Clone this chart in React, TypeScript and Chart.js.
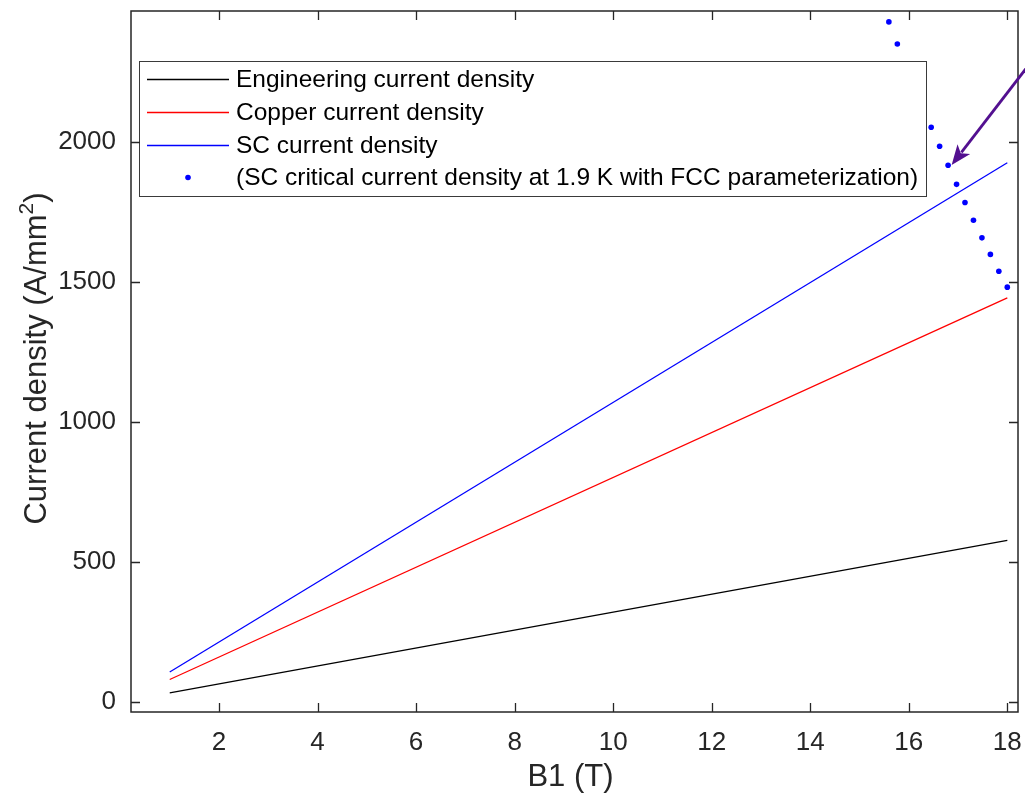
import React, { useEffect, useRef } from 'react';
import { Chart, registerables } from 'chart.js';

Chart.register(...registerables);

const FONT = '"Liberation Sans", Arial, Helvetica, sans-serif';
const AXIS_COLOR = '#262626';

// ---- data ----
const bField = [1, 18];
const engineeringJ = [32, 577];
const copperJ = [80, 1443];
const scJ = [107, 1925];

const criticalB = [15.596, 15.768, 16.455, 16.626, 16.798, 16.97, 17.141, 17.313, 17.485, 17.657, 17.828, 18.0];
const criticalJ = [2428, 2349, 2052, 1984, 1916, 1848, 1783, 1720, 1657, 1598, 1538, 1481];

const xTickValues = [2, 4, 6, 8, 10, 12, 14, 16, 18];
const yTickValues = [0, 500, 1000, 1500, 2000];
const xRange = [0.214, 18.217];
const yRange = [-36, 2467];

const seriesLabels = [
  'Engineering current density',
  'Copper current density',
  'SC current density',
  '(SC critical current density at 1.9 K with FCC parameterization)',
];
const xTitle = 'B1 (T)';
const yTitleMain = 'Current density (A/mm';
const yTitleSup = '2';
const yTitleEnd = ')';

// annotation arrow (data coordinates): tail -> tip
const arrowTail = { x: 18.5, y: 2289 };
const arrowTip = { x: 16.87, y: 1917 };

export default function App() {
  const ref = useRef<HTMLCanvasElement>(null);

  useEffect(() => {
    const canvas = ref.current!;
    const pts = (xs: number[], ys: number[]) => xs.map((x, i) => ({ x, y: ys[i] }));

    const decor = {
      id: 'matlabDecor',
      afterDatasetsDraw(chart: any) {
        const { ctx, chartArea: a, scales } = chart;
        const xs = scales.x;
        const ys = scales.y;
        ctx.save();

        // ---- legend box ----
        const lx0 = 139, ly0 = 61, lx1 = 927, ly1 = 197;
        ctx.fillStyle = '#ffffff';
        ctx.fillRect(lx0, ly0, lx1 - lx0, ly1 - ly0);
        ctx.strokeStyle = '#3a3a3a';
        ctx.lineWidth = 1;
        ctx.strokeRect(lx0 + 0.5, ly0 + 0.5, lx1 - lx0 - 1, ly1 - ly0 - 1);
        const rowY = [79.5, 112.5, 145.5, 177.5];
        ctx.font = `24.5px ${FONT}`;
        ctx.textBaseline = 'middle';
        ctx.textAlign = 'left';
        chart.data.datasets.forEach((ds: any, i: number) => {
          const y = rowY[i];
          if (ds.showLine) {
            ctx.strokeStyle = ds.borderColor;
            ctx.lineWidth = 1.3;
            ctx.beginPath();
            ctx.moveTo(147, y);
            ctx.lineTo(229, y);
            ctx.stroke();
          } else {
            ctx.fillStyle = ds.backgroundColor;
            ctx.beginPath();
            ctx.arc(188, y, 2.8, 0, Math.PI * 2);
            ctx.fill();
          }
          ctx.fillStyle = '#000000';
          ctx.fillText(ds.label, 236, y + 1);
        });

        // ---- axes box ----
        ctx.strokeStyle = AXIS_COLOR;
        ctx.lineWidth = 1.5;
        ctx.strokeRect(a.left, a.top, a.right - a.left, a.bottom - a.top);

        // ---- inward tick marks on all sides ----
        const tl = 9;
        ctx.lineWidth = 1.3;
        ctx.beginPath();
        xTickValues.forEach((v) => {
          const px = Math.round(xs.getPixelForValue(v)) + 0.5;
          ctx.moveTo(px, a.bottom);
          ctx.lineTo(px, a.bottom - tl);
          ctx.moveTo(px, a.top);
          ctx.lineTo(px, a.top + tl);
        });
        yTickValues.forEach((v) => {
          const py = Math.round(ys.getPixelForValue(v)) + 0.5;
          ctx.moveTo(a.left, py);
          ctx.lineTo(a.left + tl, py);
          ctx.moveTo(a.right, py);
          ctx.lineTo(a.right - tl, py);
        });
        ctx.stroke();

        // ---- arrow annotation ----
        const tx = xs.getPixelForValue(arrowTail.x);
        const ty = ys.getPixelForValue(arrowTail.y);
        const hx = xs.getPixelForValue(arrowTip.x);
        const hy = ys.getPixelForValue(arrowTip.y);
        const dx = hx - tx, dy = hy - ty;
        const len = Math.hypot(dx, dy);
        const ux = dx / len, uy = dy / len;
        const headLen = 20, headHalf = 8;
        const bx = hx - ux * headLen, by = hy - uy * headLen;
        const purple = '#531090';
        ctx.strokeStyle = purple;
        ctx.fillStyle = purple;
        ctx.lineWidth = 2.8;
        ctx.beginPath();
        ctx.moveTo(tx, ty);
        ctx.lineTo(bx + ux * 4, by + uy * 4);
        ctx.stroke();
        ctx.beginPath();
        ctx.moveTo(hx, hy);
        ctx.lineTo(bx - uy * headHalf, by + ux * headHalf);
        ctx.lineTo(bx + ux * 5, by + uy * 5);
        ctx.lineTo(bx + uy * headHalf, by - ux * headHalf);
        ctx.closePath();
        ctx.fill();

        // ---- axis titles ----
        ctx.fillStyle = AXIS_COLOR;
        ctx.font = `31px ${FONT}`;
        ctx.textAlign = 'center';
        ctx.textBaseline = 'middle';
        ctx.fillText(xTitle, (a.left + a.right) / 2 - 4, 777);

        ctx.save();
        ctx.translate(35, (a.top + a.bottom) / 2 - 3);
        ctx.rotate(-Math.PI / 2);
        ctx.textAlign = 'left';
        ctx.textBaseline = 'alphabetic';
        ctx.font = `31px ${FONT}`;
        const w1 = ctx.measureText(yTitleMain).width;
        const w3 = ctx.measureText(yTitleEnd).width;
        ctx.font = `21px ${FONT}`;
        const w2 = ctx.measureText(yTitleSup).width;
        const total = w1 + w2 + w3;
        const base = 11;
        let x0 = -total / 2;
        ctx.font = `31px ${FONT}`;
        ctx.fillText(yTitleMain, x0, base);
        x0 += w1;
        ctx.font = `21px ${FONT}`;
        ctx.fillText(yTitleSup, x0, base - 13);
        x0 += w2;
        ctx.font = `31px ${FONT}`;
        ctx.fillText(yTitleEnd, x0, base);
        ctx.restore();

        ctx.restore();
      },
    };

    const chart = new Chart(canvas, {
      type: 'scatter',
      data: {
        datasets: [
          {
            label: seriesLabels[0],
            data: pts(bField, engineeringJ),
            showLine: true,
            borderColor: '#000000',
            backgroundColor: '#000000',
            borderWidth: 1.3,
            pointRadius: 0,
          },
          {
            label: seriesLabels[1],
            data: pts(bField, copperJ),
            showLine: true,
            borderColor: '#ff0000',
            backgroundColor: '#ff0000',
            borderWidth: 1.3,
            pointRadius: 0,
          },
          {
            label: seriesLabels[2],
            data: pts(bField, scJ),
            showLine: true,
            borderColor: '#0000ff',
            backgroundColor: '#0000ff',
            borderWidth: 1.3,
            pointRadius: 0,
          },
          {
            label: seriesLabels[3],
            data: pts(criticalB, criticalJ),
            showLine: false,
            borderColor: '#0000ff',
            backgroundColor: '#0000ff',
            borderWidth: 0,
            pointRadius: 2.8,
          },
        ],
      },
      options: {
        responsive: false,
        animation: false,
        devicePixelRatio: 1,
        layout: { padding: { left: 0, top: 11, right: 7, bottom: 0 } },
        plugins: { legend: { display: false }, tooltip: { enabled: false } },
        scales: {
          x: {
            type: 'linear',
            min: xRange[0],
            max: xRange[1],
            grid: { display: false, drawTicks: false },
            border: { display: false },
            ticks: {
              color: AXIS_COLOR,
              font: { family: FONT, size: 26 },
              padding: 15,
              maxRotation: 0,
              callback: (v: any) => String(v),
            },
            afterBuildTicks: (s: any) => {
              s.ticks = xTickValues.map((v) => ({ value: v }));
            },
            afterFit: (s: any) => {
              s.height = 86;
              s.paddingLeft = 0;
              s.paddingRight = 0;
            },
          },
          y: {
            type: 'linear',
            min: yRange[0],
            max: yRange[1],
            grid: { display: false, drawTicks: false },
            border: { display: false },
            ticks: {
              color: AXIS_COLOR,
              font: { family: FONT, size: 26 },
              padding: 15,
              callback: (v: any) => String(v),
            },
            afterBuildTicks: (s: any) => {
              s.ticks = yTickValues.map((v) => ({ value: v }));
            },
            afterFit: (s: any) => {
              s.width = 131;
              s.paddingTop = 0;
              s.paddingBottom = 0;
            },
          },
        },
      },
      plugins: [decor],
    });
    return () => chart.destroy();
  }, []);

  return (
    <div style={{ position: 'fixed', left: 0, top: 0, width: 1025, height: 798, background: '#ffffff' }}>
      <canvas ref={ref} width={1025} height={798} style={{ display: 'block' }} />
    </div>
  );
}
